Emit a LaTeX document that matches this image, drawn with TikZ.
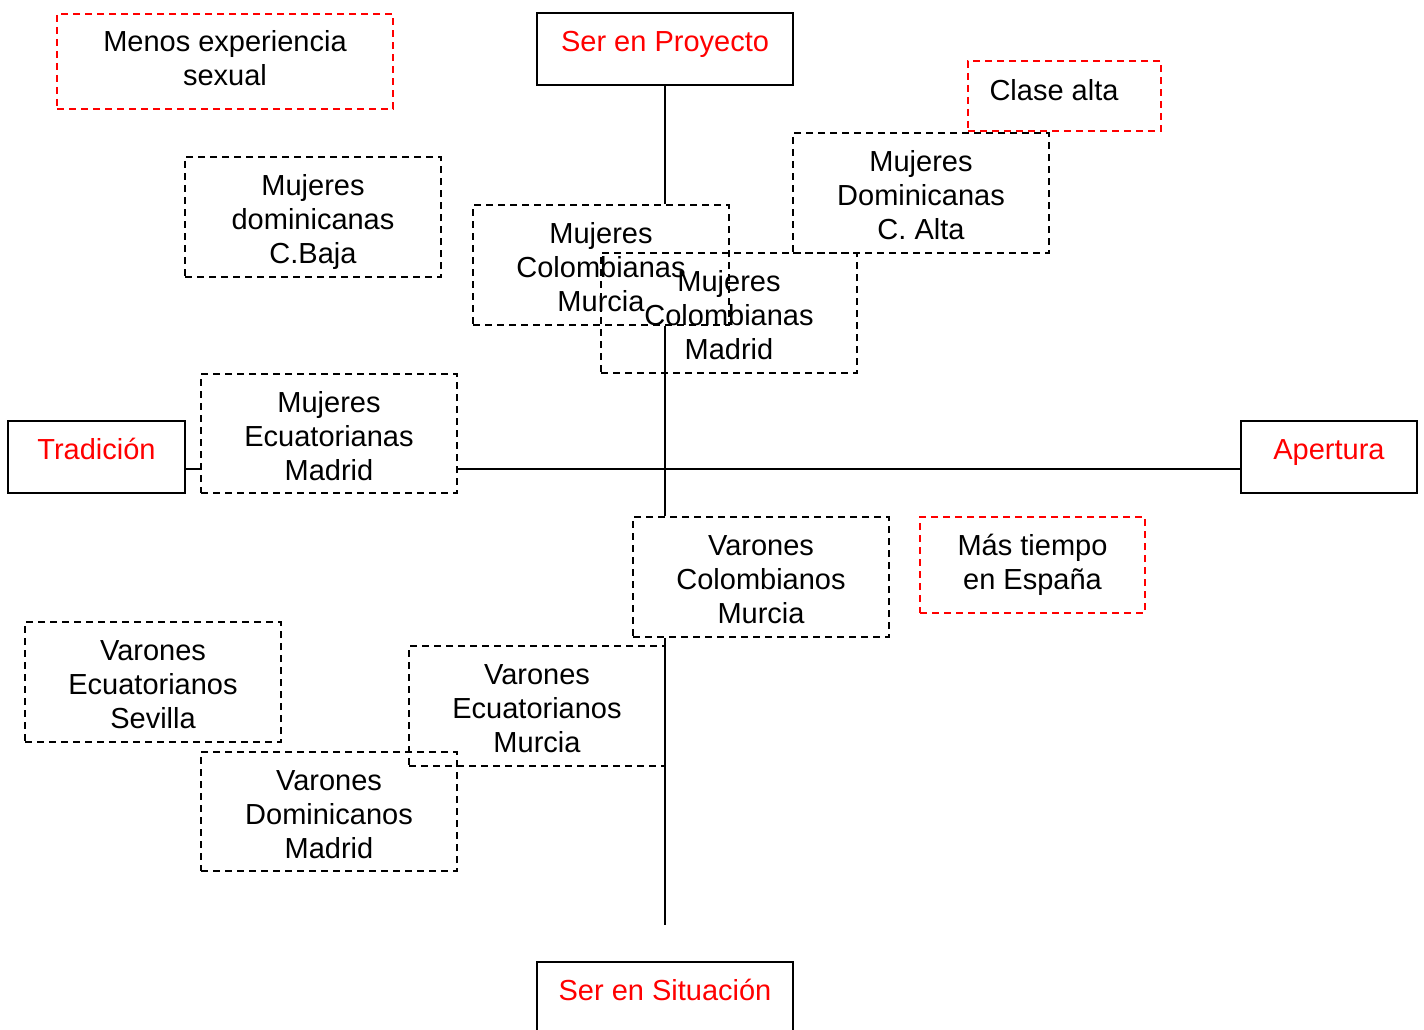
\documentclass[tikz,border=0pt]{standalone}
\usepackage{fontspec}
\setmainfont{Liberation Sans}
\begin{document}
\begin{tikzpicture}[x=1pt,y=-1pt,
  every node/.style={font=\fontsize{29}{34}\selectfont, align=center, inner sep=0pt},
  boxline/.style={line width=1.6pt},
  % fixed text box sizes, so that every box sets its lines alike
  dbox/.style={draw, boxline, dash pattern=on 7pt off 5pt, minimum width=256pt, minimum height=120pt, text height=103pt, text depth=10pt},
  rbox/.style={draw=red, boxline, dash pattern=on 7pt off 5pt},
  sbox/.style={draw, boxline, text=red, minimum height=72pt, text height=21pt, text depth=16pt},
  axisline/.style={line width=1.6pt}]
\clip (0,0) rectangle (1424,1030);

% labelled regions of the map
\node[rbox, minimum width=336pt, minimum height=95pt, text height=57pt, text depth=9pt] (menos) at (225,61.5) {Menos experiencia\\sexual};
\node[rbox, minimum width=193pt, minimum height=70pt, text height=21pt, text depth=12pt] (clase) at (1064.5,96) {Clase alta\hspace*{21pt}};
\node[rbox, minimum width=225pt, minimum height=96pt, text height=57pt, text depth=8pt] (mas) at (1032.5,565) {Más tiempo\\en España};

% poles of the two axes
\node[sbox, minimum width=256pt] (proy) at (665,49) {Ser en Proyecto};
\node[sbox, minimum width=177pt] (trad) at (96.5,457) {Tradición};
\node[sbox, minimum width=176pt] (aper) at (1329,457) {Apertura};
\node[sbox, minimum width=256pt] (sit) at (665,998) {Ser en Situación};

% groups
\node[dbox] (mdb) at (313,217) {Mujeres\\dominicanas\\C.Baja};
\node[dbox] (mda) at (921,193) {Mujeres\\Dominicanas\\C. Alta};
\node[dbox] (mcm) at (601,265) {Mujeres\\Colombianas\\Murcia};
\node[dbox] (mcmad) at (729,313) {Mujeres\\Colombianas\\Madrid};
\node[dbox, minimum height=119pt] (mem) at (329,433.5) {Mujeres\\Ecuatorianas\\Madrid};
\node[dbox] (vcm) at (761,577) {Varones\\Colombianos\\Murcia};
\node[dbox] (ves) at (153,682) {Varones\\Ecuatorianos\\Sevilla};
\node[dbox] (vem) at (537,706) {Varones\\Ecuatorianos\\Murcia};
\node[dbox, minimum height=119pt] (vdm) at (329,811.5) {Varones\\Dominicanos\\Madrid};

% axes
\coordinate (hy) at (0,469);
\coordinate (vend) at (665,925);
\draw[axisline] (proy.south) -- (proy.south |- mcm.north);
\draw[axisline] (proy.south |- mcm.south) -- (proy.south |- vcm.north);
\draw[axisline] (proy.south |- vcm.south) -- (vend);
\draw[axisline] (trad.east |- hy) -- (mem.west |- hy);
\draw[axisline] (mem.east |- hy) -- (aper.west |- hy);
\end{tikzpicture}
\end{document}
